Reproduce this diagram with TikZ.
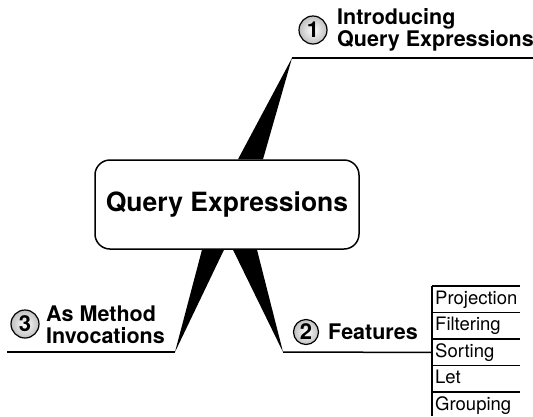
\documentclass[tikz,border=0pt]{standalone}
\usepackage{fontspec}
\setmainfont{TeX Gyre Heros}
\usetikzlibrary{backgrounds}
\begin{document}
\begin{tikzpicture}[
  x=1pt, y=-1pt,
  every node/.style={inner sep=0pt},
  topic/.style={
    draw,
    line width=1.5pt,
    rounded corners=15pt,
    fill=white,
    minimum width=264pt,
    minimum height=89pt,
    font=\fontsize{26.5}{30}\selectfont\bfseries
  },
  branch/.style={line width=1.5pt},
  wedge/.style={fill=black},
  num/.style={
    circle,
    draw,
    line width=1.2pt,
    inner color=white,
    outer color=black!25,
    font=\fontsize{22}{22}\selectfont\bfseries
  },
  branchtext/.style={align=left, font=\fontsize{21.5}{22}\selectfont\bfseries},
  feature/.style={
    anchor=north west,
    text width=82pt,
    inner xsep=3pt,
    minimum height=26.5pt,
    text height=13.5pt,
    text depth=4pt,
    font=\fontsize{18.5}{20}\selectfont
  }
]
\useasboundingbox (0,0) rectangle (533,416);
\node[topic] (qe) at (227,204.5) {Query Expressions};

\coordinate (t1) at (292,58);
\coordinate (e1) at (533,58);
\coordinate (t3) at (175,352);
\coordinate (e3) at (7,352);
\coordinate (t2) at (283,352);

\begin{scope}[on background layer]
\fill[wedge] ([xshift=11pt]qe.north) -- (t1) -- ([xshift=36pt]qe.north) -- cycle;
\fill[wedge] ([xshift=-25pt]qe.south) -- (t3) -- ([xshift=-3pt]qe.south) -- cycle;
\fill[wedge] ([xshift=6pt]qe.south) -- (t2) -- ([xshift=30pt]qe.south) -- cycle;
\end{scope}

\node[num, minimum size=28pt] (c1) at (313,30) {1};
\node[branchtext, anchor=west] (intro) at (337,30) {Introducing\\Query Expressions};
\draw[branch] (t1) -- (e1);

\node[num, minimum size=25pt] (c2) at (306,332) {2};
\node[branchtext, anchor=base west] (feat) at (328,339) {Features};

\node[num, minimum size=28pt] (c3) at (25,324) {3};
\node[branchtext, anchor=west] (method) at (46,325) {As Method\\Invocations};
\draw[branch] (t3) -- (e3);

\node[feature] (proj) at (432,286) {Projection};
\node[feature] (filt) at (432,312.5) {Filtering};
\node[feature] (sort) at (432,339) {Sorting};
\node[feature] (letn) at (432,365.5) {Let};
\node[feature] (grp) at (432,392) {Grouping};
\foreach \r in {proj,filt,sort,letn,grp}
  \draw[branch] (\r.north west) -- (\r.north east);
\coordinate (tabend) at (432,416);
\draw[branch] (proj.north west) -- (tabend);
\draw[branch] (t2) -- (sort.west);
\end{tikzpicture}
\end{document}
